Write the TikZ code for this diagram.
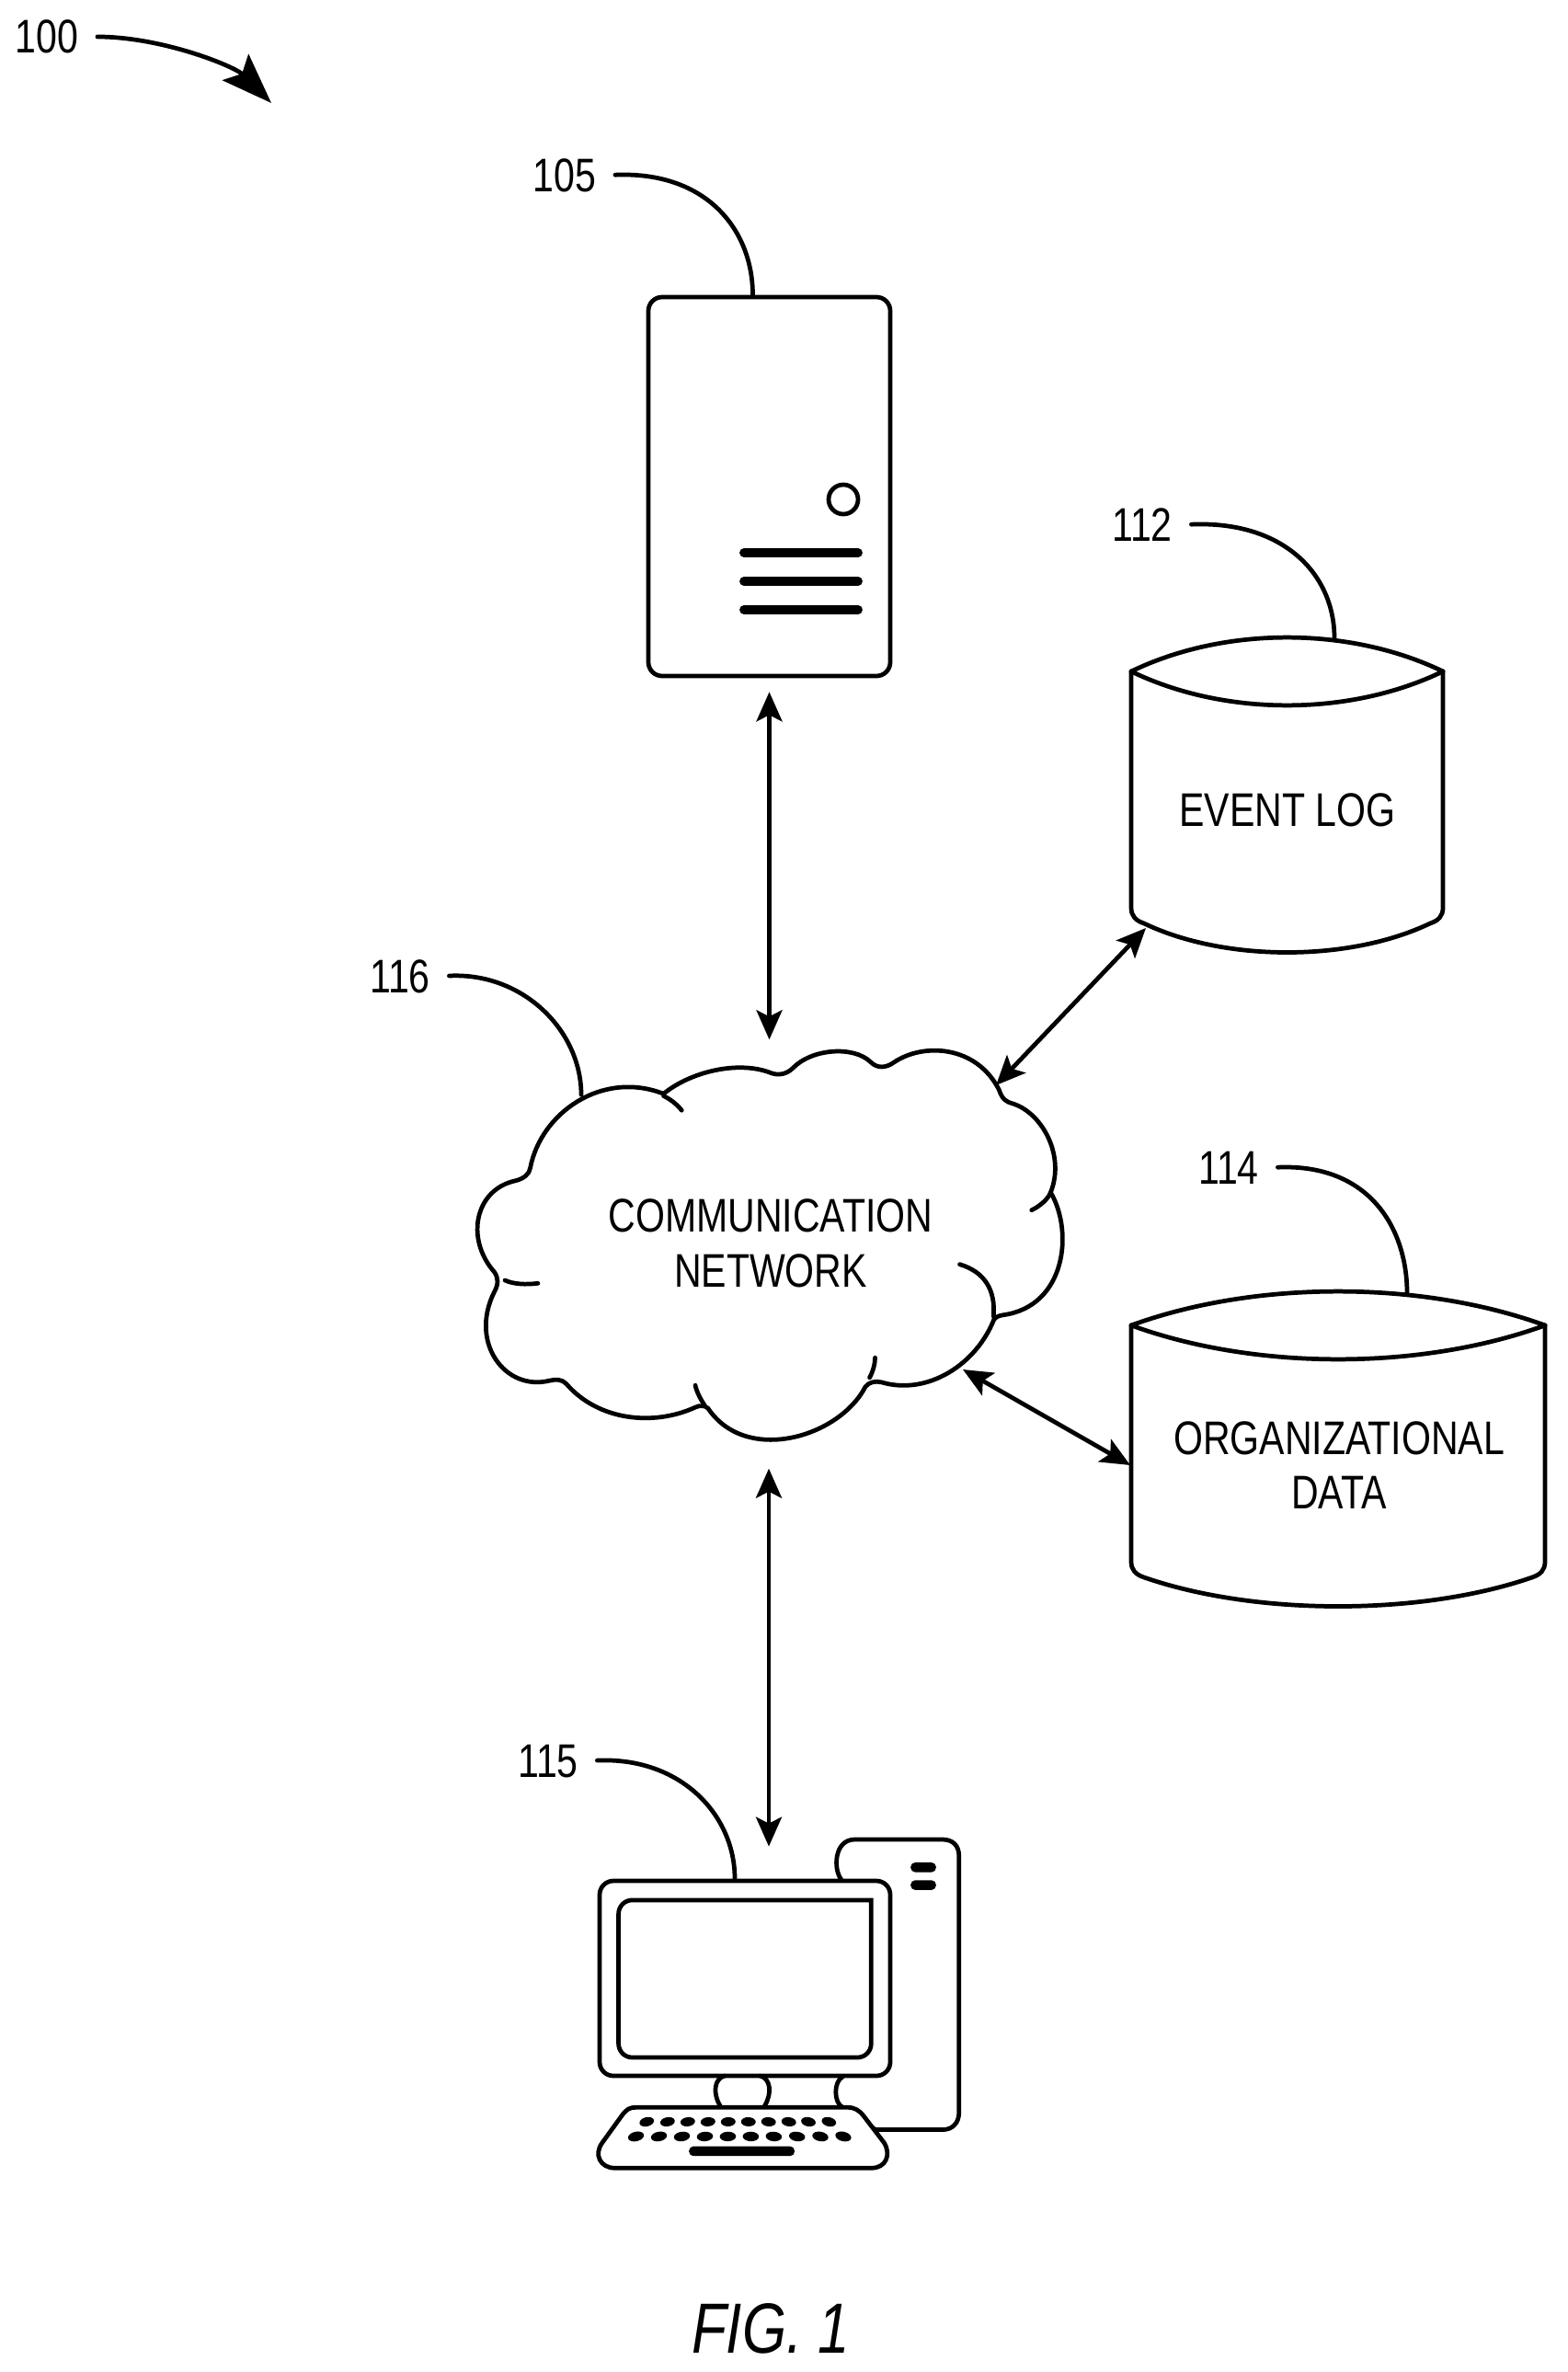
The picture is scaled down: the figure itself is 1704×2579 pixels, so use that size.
\documentclass[tikz,border=0pt]{standalone}
\usepackage{fontspec}
\setmainfont[FakeStretch=0.8]{Liberation Sans}
\usetikzlibrary{calc,arrows.meta}
\pgfkeys{
  /custom/.cd,
  width/.initial=100,
  height/.initial=100,
  position/.initial={0,0},
  rise/.initial=36
}
\newcommand{\dbnode}[1][]{
    {
        \pgfkeys{/custom/.cd,#1}
        \pgfkeys{/custom/width/.get=\dbnodewidth}
        \pgfkeys{/custom/height/.get=\dbnodeheight}
        \pgfkeys{/custom/position/.get=\dbnodeposition}
        \pgfkeys{/custom/rise/.get=\dbnoderise}
        \begin{scope}[shift={(\dbnodeposition)}]
            \draw[stroke] (0,0) .. controls (0.3*\dbnodewidth,-1.33*\dbnoderise) and (0.7*\dbnodewidth,-1.33*\dbnoderise) .. (\dbnodewidth,0);
            \draw[stroke] (0,0) .. controls (0.3*\dbnodewidth,1.33*\dbnoderise) and (0.7*\dbnodewidth,1.33*\dbnoderise) .. (\dbnodewidth,0);
            \draw[stroke] (0,0) -- (0,\dbnodeheight) .. controls (0,\dbnodeheight+9) and (5,\dbnodeheight+14) .. (14,\dbnodeheight+17)
                .. controls (0.3*\dbnodewidth,\dbnodeheight+59) and (0.7*\dbnodewidth,\dbnodeheight+59) .. (\dbnodewidth-14,\dbnodeheight+17)
                .. controls (\dbnodewidth-5,\dbnodeheight+14) and (\dbnodewidth,\dbnodeheight+9) .. (\dbnodewidth,\dbnodeheight) -- (\dbnodewidth,0);
        \end{scope}
    }
}
\tikzset{
  stroke/.style={line width=1.35pt,line cap=round},
  txt/.style={font=\fontsize{14.6}{17}\selectfont,inner sep=0pt,align=center},
  link/.style={stroke,line cap=butt,<->,>={Stealth[length=3.2mm,width=2.8mm,inset=0.7mm]}},
  leader/.style={stroke,shorten <=2mm}
}
\begin{document}
\begin{tikzpicture}[x=0.1mm,y=-0.1mm]
    \useasboundingbox (0,0) rectangle (1704,2579);

    % server
    \node[stroke,draw,rounded corners=1.5mm,minimum width=26.3mm,minimum height=41.2mm] (server) at (836.5,529) {};
    \node[stroke,draw,circle,minimum size=3.2mm,inner sep=0pt] (led) at (917,543) {};
    \foreach \y in {601,632,663} {
        \draw[line width=2.8pt,line cap=round] (809,\y) -- (933,\y);
    }

    % data stores
    \dbnode[position={1230,730},width=339,height=257,rise=37]
    \dbnode[position={1230,1441},width=450,height=257,rise=37]
    \node[txt] (elog) at (1400,881) {EVENT LOG};
    \node[txt] (orgdata) at (1456,1593) {ORGANIZATIONAL\\DATA};

    % cloud
    \node[txt,minimum width=64cm/10,minimum height=45.2mm] (cloud) at (838,1352) {COMMUNICATION\\NETWORK};
    \begin{scope}[shift={(480,1100)},x=0.046mm,y=-0.0333mm]
        \draw[stroke] (525,268) .. controls (590,195) and (700,160) .. (775,198) .. controls (795,210) and (815,205) .. (830,185)
            .. controls (875,120) and (975,110) .. (1015,165) .. controls (1030,185) and (1050,185) .. (1070,165)
            .. controls (1140,100) and (1265,110) .. (1318,255) .. controls (1325,285) and (1335,295) .. (1350,300)
            .. controls (1420,330) and (1475,470) .. (1440,590)
            .. controls (1495,720) and (1475,960) .. (1330,990) .. controls (1320,992) and (1312,995) .. (1306,1005)
            .. controls (1265,1150) and (1150,1255) .. (1040,1210) .. controls (1025,1205) and (1010,1210) .. (1002,1225)
            .. controls (940,1390) and (720,1480) .. (630,1295) .. controls (622,1285) and (610,1285) .. (600,1292)
            .. controls (500,1355) and (370,1335) .. (295,1215) .. controls (285,1200) and (270,1200) .. (255,1205)
            .. controls (150,1240) and (65,1080) .. (125,915) .. controls (135,890) and (135,870) .. (125,850)
            .. controls (55,740) and (80,580) .. (175,552) .. controls (195,545) and (208,530) .. (210,510)
            .. controls (235,330) and (380,190) .. (525,268);
        \draw[stroke] (525,275) .. controls (540,285) and (555,300) .. (568,322);
        \draw[stroke] (1440,590) .. controls (1435,610) and (1415,635) .. (1395,648);
        \draw[stroke] (1225,825) .. controls (1285,850) and (1310,910) .. (1305,995);
        \draw[stroke] (1025,1130) .. controls (1025,1150) and (1020,1175) .. (1012,1195);
        \draw[stroke] (600,1220) .. controls (603,1240) and (612,1265) .. (622,1285);
        \draw[stroke] (150,877) .. controls (170,890) and (200,892) .. (228,887);
    \end{scope}

    % computer
    \begin{scope}[shift={(620,1980)},x=0.0333mm,y=-0.0333mm]
        \draw[stroke] (885,190) .. controls (860,160) and (860,60) .. (930,60) -- (1215,60)
            .. controls (1250,60) and (1270,80) .. (1270,115) -- (1270,950)
            .. controls (1270,985) and (1250,1008) .. (1215,1008) -- (1000,1008)
            .. controls (975,1000) and (960,970) .. (945,950);
        \draw[stroke] (890,835) .. controls (860,850) and (860,920) .. (890,935);
        \draw[stroke] (490,930) .. controls (465,890) and (470,840) .. (505,832);
        \draw[stroke] (635,930) .. controls (660,890) and (655,840) .. (620,832);
        \draw[stroke] (158,303) .. controls (158,278) and (178,258) .. (203,258) -- (983,258) -- (983,727)
            .. controls (983,752) and (963,772) .. (938,772) -- (203,772)
            .. controls (178,772) and (158,752) .. (158,727) -- cycle;
        \draw[stroke,fill=white] (215,935) -- (905,935) .. controls (930,935) and (945,945) .. (960,965) -- (1025,1050)
            .. controls (1050,1090) and (1030,1133) .. (985,1133) -- (145,1133)
            .. controls (100,1133) and (75,1090) .. (105,1050) -- (170,960)
            .. controls (185,940) and (195,935) .. (215,935) -- cycle;
        \foreach[count=\i] \x in {250,318,384,450,516,582,648,714,778,845} {
            \fill[rotate around={(5.5-\i)*3:(\x,982)}] (\x,982) ellipse [x radius=0.8mm,y radius=0.5mm];
        }
        \foreach[count=\i] \x in {215,290,365,440,515,590,665,741,817,892} {
            \fill[rotate around={(5.5-\i)*3:(\x,1030)}] (\x,1030) ellipse [x radius=0.88mm,y radius=0.52mm];
        }
        \fill[rounded corners=0.5mm] (388,1062) rectangle (733,1094);
        \fill[rounded corners=0.5mm] (1112,135) rectangle (1195,167);
        \fill[rounded corners=0.5mm] (1112,193) rectangle (1195,225);
    \end{scope}
    \node[stroke,draw,rounded corners=1.5mm,minimum width=31.6mm,minimum height=21.2mm] (monitor) at (810,2151) {};

    % reference numerals
    \node[txt] (l100) at (51,40) {100};
    \node[txt] (l105) at (614,191) {105};
    \node[txt] (l112) at (1242,571) {112};
    \node[txt] (l114) at (1336,1270) {114};
    \node[txt] (l115) at (596,1915) {115};
    \node[txt] (l116) at (435,1062) {116};
    \node[font=\fontsize{22}{26}\selectfont\itshape,inner sep=0pt] (figlabel) at (838,2532) {FIG. 1};

    \draw[stroke,shorten <=2mm,-{Stealth[length=5.5mm,width=4mm,inset=1mm]}] (l100.east) .. controls +(90,0) and +(-40,-40) .. (295,112);
    \draw[leader] (l105.east) .. controls +(120,-5) and +(0,-70) .. ($ (server.north) + (-18,0) $);
    \draw[leader] (l112.east) .. controls +(120,-5) and +(0,-70) .. ($ (elog) + (51,-187) $);
    \draw[leader] (l114.east) .. controls +(120,-5) and +(0,-70) .. ($ (orgdata) + (74,-187) $);
    \draw[leader] (l115.east) .. controls +(110,-5) and +(0,-70) .. ($ (monitor.north) + (-11,0) $);
    \draw[leader] (l116.east) .. controls +(100,-5) and +(0,-70) .. ($ (cloud.north) + (-206,65) $);

    \draw[link] ($ (server.south) + (0,15) $) -- ($ (server.south |- cloud.north) + (0,5) $);
    \draw[link] ($ (elog) + (-154,128) $) -- ($ (cloud) + (245,-172) $);
    \draw[link] ($ (orgdata) + (-227,0) $) -- ($ (cloud) + (209,137) $);
    \draw[link] ($ (cloud.south) + (-2,18) $) -- ($ (monitor.north) + (26,-35) $);
\end{tikzpicture}
\end{document}
